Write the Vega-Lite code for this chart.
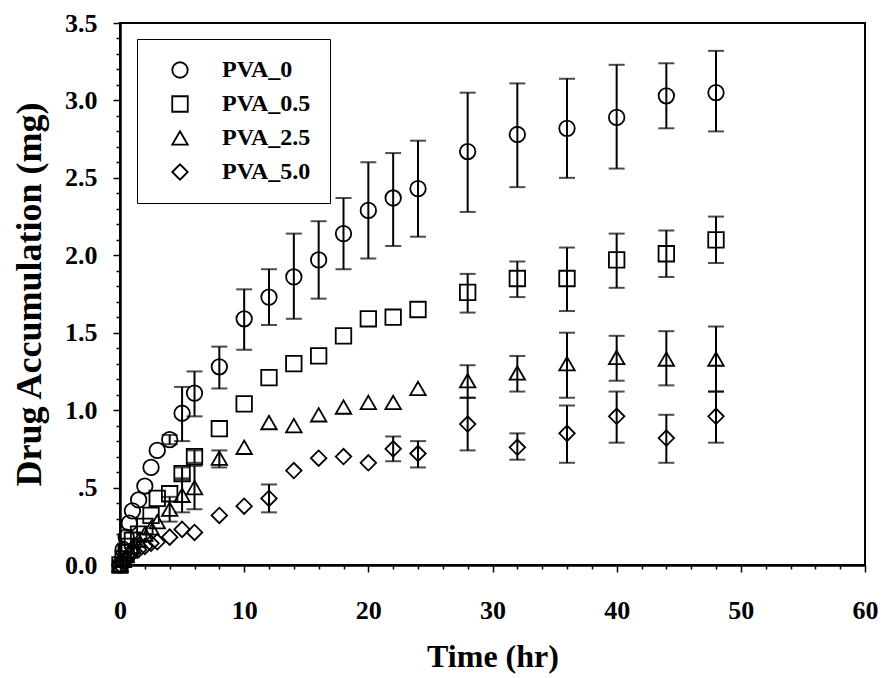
{
  "$schema": "https://vega.github.io/schema/vega-lite/v6.json",
  "width": 745,
  "height": 542,
  "autosize": {"type": "none"},
  "padding": {"left": 120, "top": 23, "right": 19, "bottom": 113},
  "background": "white",
  "config": {
    "view": {"stroke": "black", "strokeWidth": 2},
    "font": "Liberation Serif",
    "axis": {
      "labelFont": "Liberation Serif",
      "labelFontWeight": "bold",
      "labelFontSize": 26,
      "labelColor": "black",
      "titleFont": "Liberation Serif",
      "titleFontWeight": "bold",
      "titleColor": "black",
      "domainColor": "black",
      "domainWidth": 2.5,
      "tickColor": "black",
      "tickWidth": 1.5,
      "grid": false,
      "labelOverlap": false,
      "labelBound": false,
      "labelFlush": false
    },
    "legend": {
      "orient": "none",
      "labelFont": "Liberation Serif",
      "labelFontWeight": "bold",
      "labelFontSize": 24,
      "labelColor": "black"
    }
  },
  "data": {"values": [
    {"t":0,"g":"PVA_0","y":0.0},
    {"t":0.25,"g":"PVA_0","y":0.10},
    {"t":0.5,"g":"PVA_0","y":0.18},
    {"t":0.75,"g":"PVA_0","y":0.27},
    {"t":1,"g":"PVA_0","y":0.35},
    {"t":1.5,"g":"PVA_0","y":0.42},
    {"t":2,"g":"PVA_0","y":0.51},
    {"t":2.5,"g":"PVA_0","y":0.63},
    {"t":3,"g":"PVA_0","y":0.74},
    {"t":4,"g":"PVA_0","y":0.81,"lo":0.78,"hi":0.84},
    {"t":5,"g":"PVA_0","y":0.98,"lo":0.80,"hi":1.15},
    {"t":6,"g":"PVA_0","y":1.11,"lo":0.96,"hi":1.25},
    {"t":8,"g":"PVA_0","y":1.28,"lo":1.14,"hi":1.41},
    {"t":10,"g":"PVA_0","y":1.59,"lo":1.39,"hi":1.78},
    {"t":12,"g":"PVA_0","y":1.73,"lo":1.55,"hi":1.91},
    {"t":14,"g":"PVA_0","y":1.86,"lo":1.59,"hi":2.14},
    {"t":16,"g":"PVA_0","y":1.97,"lo":1.72,"hi":2.22},
    {"t":18,"g":"PVA_0","y":2.14,"lo":1.91,"hi":2.37},
    {"t":20,"g":"PVA_0","y":2.29,"lo":1.98,"hi":2.60},
    {"t":22,"g":"PVA_0","y":2.37,"lo":2.06,"hi":2.66},
    {"t":24,"g":"PVA_0","y":2.43,"lo":2.12,"hi":2.74},
    {"t":28,"g":"PVA_0","y":2.67,"lo":2.28,"hi":3.05},
    {"t":32,"g":"PVA_0","y":2.78,"lo":2.44,"hi":3.11},
    {"t":36,"g":"PVA_0","y":2.82,"lo":2.50,"hi":3.14},
    {"t":40,"g":"PVA_0","y":2.89,"lo":2.56,"hi":3.23},
    {"t":44,"g":"PVA_0","y":3.03,"lo":2.82,"hi":3.24},
    {"t":48,"g":"PVA_0","y":3.05,"lo":2.80,"hi":3.32},
    {"t":0,"g":"PVA_0.5","y":0.0},
    {"t":0.25,"g":"PVA_0.5","y":0.04},
    {"t":0.5,"g":"PVA_0.5","y":0.08},
    {"t":0.75,"g":"PVA_0.5","y":0.12},
    {"t":1,"g":"PVA_0.5","y":0.16},
    {"t":1.5,"g":"PVA_0.5","y":0.20},
    {"t":2,"g":"PVA_0.5","y":0.25},
    {"t":2.5,"g":"PVA_0.5","y":0.32},
    {"t":3,"g":"PVA_0.5","y":0.43},
    {"t":4,"g":"PVA_0.5","y":0.46},
    {"t":5,"g":"PVA_0.5","y":0.59,"lo":0.55,"hi":0.63},
    {"t":6,"g":"PVA_0.5","y":0.70,"lo":0.66,"hi":0.74},
    {"t":8,"g":"PVA_0.5","y":0.88},
    {"t":10,"g":"PVA_0.5","y":1.04},
    {"t":12,"g":"PVA_0.5","y":1.21},
    {"t":14,"g":"PVA_0.5","y":1.30},
    {"t":16,"g":"PVA_0.5","y":1.35},
    {"t":18,"g":"PVA_0.5","y":1.48},
    {"t":20,"g":"PVA_0.5","y":1.59},
    {"t":22,"g":"PVA_0.5","y":1.60},
    {"t":24,"g":"PVA_0.5","y":1.65},
    {"t":28,"g":"PVA_0.5","y":1.76,"lo":1.63,"hi":1.88},
    {"t":32,"g":"PVA_0.5","y":1.85,"lo":1.73,"hi":1.96},
    {"t":36,"g":"PVA_0.5","y":1.85,"lo":1.64,"hi":2.05},
    {"t":40,"g":"PVA_0.5","y":1.97,"lo":1.79,"hi":2.14},
    {"t":44,"g":"PVA_0.5","y":2.01,"lo":1.86,"hi":2.16},
    {"t":48,"g":"PVA_0.5","y":2.10,"lo":1.95,"hi":2.25},
    {"t":0,"g":"PVA_2.5","y":0.0},
    {"t":0.25,"g":"PVA_2.5","y":0.03},
    {"t":0.5,"g":"PVA_2.5","y":0.06},
    {"t":0.75,"g":"PVA_2.5","y":0.09},
    {"t":1,"g":"PVA_2.5","y":0.12},
    {"t":1.5,"g":"PVA_2.5","y":0.16},
    {"t":2,"g":"PVA_2.5","y":0.20},
    {"t":2.5,"g":"PVA_2.5","y":0.24},
    {"t":3,"g":"PVA_2.5","y":0.28},
    {"t":4,"g":"PVA_2.5","y":0.36,"lo":0.28,"hi":0.44},
    {"t":5,"g":"PVA_2.5","y":0.45,"lo":0.34,"hi":0.56},
    {"t":6,"g":"PVA_2.5","y":0.50,"lo":0.36,"hi":0.64},
    {"t":8,"g":"PVA_2.5","y":0.69,"lo":0.63,"hi":0.74},
    {"t":10,"g":"PVA_2.5","y":0.76},
    {"t":12,"g":"PVA_2.5","y":0.92},
    {"t":14,"g":"PVA_2.5","y":0.90},
    {"t":16,"g":"PVA_2.5","y":0.97},
    {"t":18,"g":"PVA_2.5","y":1.02},
    {"t":20,"g":"PVA_2.5","y":1.05},
    {"t":22,"g":"PVA_2.5","y":1.05},
    {"t":24,"g":"PVA_2.5","y":1.14},
    {"t":28,"g":"PVA_2.5","y":1.19,"lo":1.08,"hi":1.29},
    {"t":32,"g":"PVA_2.5","y":1.24,"lo":1.12,"hi":1.35},
    {"t":36,"g":"PVA_2.5","y":1.30,"lo":1.08,"hi":1.50},
    {"t":40,"g":"PVA_2.5","y":1.34,"lo":1.19,"hi":1.48},
    {"t":44,"g":"PVA_2.5","y":1.33,"lo":1.16,"hi":1.51},
    {"t":48,"g":"PVA_2.5","y":1.33,"lo":1.12,"hi":1.54},
    {"t":0,"g":"PVA_5.0","y":0.0},
    {"t":0.25,"g":"PVA_5.0","y":0.02},
    {"t":0.5,"g":"PVA_5.0","y":0.04},
    {"t":0.75,"g":"PVA_5.0","y":0.06},
    {"t":1,"g":"PVA_5.0","y":0.08},
    {"t":1.5,"g":"PVA_5.0","y":0.10},
    {"t":2,"g":"PVA_5.0","y":0.12},
    {"t":2.5,"g":"PVA_5.0","y":0.14},
    {"t":3,"g":"PVA_5.0","y":0.15},
    {"t":4,"g":"PVA_5.0","y":0.18},
    {"t":5,"g":"PVA_5.0","y":0.23},
    {"t":6,"g":"PVA_5.0","y":0.21},
    {"t":8,"g":"PVA_5.0","y":0.32},
    {"t":10,"g":"PVA_5.0","y":0.38},
    {"t":12,"g":"PVA_5.0","y":0.43,"lo":0.34,"hi":0.52},
    {"t":14,"g":"PVA_5.0","y":0.61},
    {"t":16,"g":"PVA_5.0","y":0.69},
    {"t":18,"g":"PVA_5.0","y":0.70},
    {"t":20,"g":"PVA_5.0","y":0.66},
    {"t":22,"g":"PVA_5.0","y":0.75,"lo":0.67,"hi":0.83},
    {"t":24,"g":"PVA_5.0","y":0.72,"lo":0.63,"hi":0.80},
    {"t":28,"g":"PVA_5.0","y":0.91,"lo":0.74,"hi":1.08},
    {"t":32,"g":"PVA_5.0","y":0.76,"lo":0.68,"hi":0.85},
    {"t":36,"g":"PVA_5.0","y":0.85,"lo":0.66,"hi":1.03},
    {"t":40,"g":"PVA_5.0","y":0.96,"lo":0.79,"hi":1.12},
    {"t":44,"g":"PVA_5.0","y":0.82,"lo":0.66,"hi":0.97},
    {"t":48,"g":"PVA_5.0","y":0.96,"lo":0.79,"hi":1.12}
  ]},
  "encoding": {
    "x": {
      "field": "t", "type": "quantitative",
      "scale": {"domain": [0, 60], "nice": false, "zero": false},
      "axis": {
        "title": "Time (hr)",
        "titleFontSize": 32,
        "values": [0,2,4,6,8,10,12,14,16,18,20,22,24,26,28,30,32,34,36,38,40,42,44,46,48,50,52,54,56,58,60],
        "labelExpr": "datum.value % 10 == 0 ? datum.label : ''",
        "tickSize": {"condition": {"test": "datum.value % 10 == 0", "value": 7}, "value": 4},
        "labelPadding": 25,
        "titlePadding": 18
      }
    },
    "y": {
      "field": "y", "type": "quantitative",
      "scale": {"domain": [0, 3.5], "nice": false},
      "axis": {
        "title": "Drug Accumulation (mg)",
        "titleFontSize": 36,
        "values": [0,0.1,0.2,0.3,0.4,0.5,0.6,0.7,0.8,0.9,1.0,1.1,1.2,1.3,1.4,1.5,1.6,1.7,1.8,1.9,2.0,2.1,2.2,2.3,2.4,2.5,2.6,2.7,2.8,2.9,3.0,3.1,3.2,3.3,3.4,3.5],
        "labelExpr": "abs(datum.value*2 - round(datum.value*2)) < 0.001 ? (abs(datum.value - 0.5) < 0.001 ? '.5' : format(datum.value, '.1f')) : ''",
        "tickSize": {"condition": {"test": "abs(datum.value*2 - round(datum.value*2)) < 0.001", "value": 7}, "value": 4},
        "labelPadding": 16,
        "titlePadding": 16
      }
    }
  },
  "layer": [
    {
      "transform": [{"filter": "isValid(datum.lo)"}],
      "mark": {"type": "rule", "color": "black", "strokeWidth": 2},
      "encoding": {"y": {"field": "lo", "type": "quantitative"}, "y2": {"field": "hi"}}
    },
    {
      "transform": [{"filter": "isValid(datum.lo)"}],
      "mark": {"type": "tick", "orient": "horizontal", "color": "black", "size": 16, "thickness": 2},
      "encoding": {"y": {"field": "lo", "type": "quantitative"}}
    },
    {
      "transform": [{"filter": "isValid(datum.lo)"}],
      "mark": {"type": "tick", "orient": "horizontal", "color": "black", "size": 16, "thickness": 2},
      "encoding": {"y": {"field": "hi", "type": "quantitative"}}
    },
    {
      "mark": {"type": "point", "filled": false, "color": "black", "strokeWidth": 1.8, "opacity": 1, "size": 240},
      "encoding": {
        "shape": {
          "field": "g", "type": "nominal",
          "scale": {"domain": ["PVA_0","PVA_0.5","PVA_2.5","PVA_5.0"], "range": ["circle","square","triangle-up","diamond"]},
          "legend": {
            "title": null,
            "orient": "none",
            "legendX": 17,
            "legendY": 16,
            "strokeColor": "black",
            "fillColor": "white",
            "padding": 19,
            "symbolOffset": 12,
            "labelOffset": 30,
            "rowPadding": 10,
            "symbolSize": 240,
            "symbolStrokeColor": "black",
            "symbolStrokeWidth": 1.8,
            "symbolType": "circle"
          }
        }
      }
    }
  ]
}
